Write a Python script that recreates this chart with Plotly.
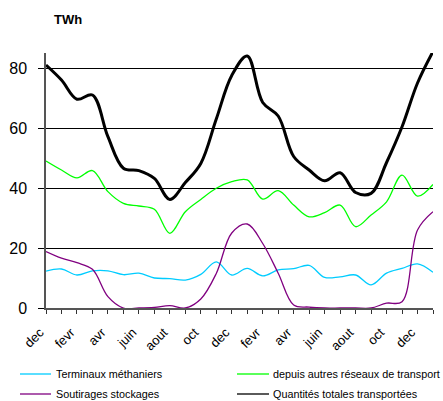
import plotly.graph_objects as go

months = ["dec", "janv", "fevr", "mars", "avr", "mai", "juin", "juil", "aout", "sept", "oct", "nov",
          "dec", "janv", "fevr", "mars", "avr", "mai", "juin", "juil", "aout", "sept", "oct", "nov",
          "dec", "janv"]
x_idx = list(range(len(months)))
tick_labels = [m if i % 2 == 0 else "" for i, m in enumerate(months)]

terminaux = [12.3, 13.0, 11.0, 12.4, 12.4, 11.1, 11.6, 10.0, 9.8, 9.3, 11.2, 15.4,
             11.0, 13.2, 10.7, 12.7, 13.1, 14.2, 10.2, 10.4, 11.0, 7.7, 11.6, 13.2, 14.7, 11.9]
autres_reseaux = [49.0, 46.0, 43.4, 45.8, 38.8, 34.9, 34.0, 32.9, 24.9, 32.1, 36.2, 39.9,
                  42.1, 42.7, 36.3, 39.1, 34.3, 30.4, 31.8, 34.3, 27.1, 31.0, 35.4, 44.3, 37.3, 41.2]
soutirages = [18.8, 16.6, 15.1, 12.9, 3.8, 0.0, 0.0, 0.2, 0.8, 0.0, 3.0, 11.5,
              25.0, 28.0, 21.5, 11.6, 1.0, 0.3, 0.0, 0.0, 0.0, 0.0, 1.6, 2.1, 26.0, 32.1]
totales = [81.0, 76.0, 69.6, 71.0, 57.1, 46.6, 45.8, 43.2, 36.2, 41.8, 48.2, 63.0,
           77.5, 84.0, 68.5, 64.0, 50.5, 46.0, 42.4, 45.1, 38.5, 38.2, 48.5, 60.4, 75.0, 85.5]

series = [
    ("Terminaux méthaniers", terminaux, "#00CCFF", 1.3),
    ("depuis autres réseaux de transport", autres_reseaux, "#00FF00", 1.3),
    ("Soutirages stockages", soutirages, "#800080", 1.3),
    ("Quantités totales transportées", totales, "#000000", 3),
]

W, H = 443, 401
# plot area in pixels: x 46..433, y 53..308
L, R, T, B = 46, 433, 53, 308
def px(xp):
    return (xp - L) / (R - L)
def py(yp):
    return (B - yp) / (B - T)

# legend layout (pixel positions): 2 columns x 2 rows
leg_cols = [(20, 51, 54), (237, 269, 271)]
leg_rows = [374, 394]

fig = go.Figure()
shapes = []
annotations = []
for k, (name, vals, color, w) in enumerate(series):
    fig.add_trace(go.Scatter(
        x=x_idx, y=vals, name=name, mode="lines",
        line=dict(color=color, width=w, shape="spline", smoothing=1.0),
        showlegend=False,
    ))
    c = leg_cols[k % 2]
    r = leg_rows[k // 2]
    shapes.append(dict(type="line", xref="paper", yref="paper",
                       x0=px(c[0]), x1=px(c[1]), y0=py(r), y1=py(r),
                       line=dict(color=color, width=1.3)))
    annotations.append(dict(text=name, xref="paper", yref="paper",
                            x=px(c[2]), y=py(r), xanchor="left", yanchor="middle",
                            showarrow=False, font=dict(size=10.8, color="black")))

annotations.append(dict(
    text="<b>TWh</b>", xref="paper", yref="paper", x=px(52), y=py(19.5),
    xanchor="left", yanchor="middle", showarrow=False, font=dict(size=13),
))

fig.update_layout(
    width=W, height=H,
    margin=dict(l=L, r=W - R, t=T, b=H - B),
    paper_bgcolor="white", plot_bgcolor="white",
    font=dict(family="Liberation Sans, Arial, sans-serif", color="black"),
    showlegend=False,
    xaxis=dict(
        range=[0, 25], tickmode="array", tickvals=x_idx, ticktext=tick_labels,
        tickangle=-45, tickfont=dict(size=13),
        ticklabelstandoff=6, ticklabelshift=-6,
        showgrid=False, zeroline=False,
        showline=True, linecolor="#555555", linewidth=1.5,
        ticks="outside", ticklen=4, tickcolor="#333333", tickwidth=1,
    ),
    yaxis=dict(
        range=[0, 85], tickmode="array", tickvals=[0, 20, 40, 60, 80],
        tickfont=dict(size=16), ticklabelstandoff=8,
        showgrid=True, gridcolor="black", gridwidth=1, zeroline=False,
        showline=True, linecolor="#555555", linewidth=1.5,
        ticks="outside", ticklen=6, tickcolor="black",
    ),
    shapes=shapes,
    annotations=annotations,
)

# remove the default page margin so the 443x401 figure fills the window exactly
fig.write_html(
    "out.html",
    config={"displayModeBar": False},
    post_script="document.body.style.margin='0';document.body.style.overflow='hidden';",
)
